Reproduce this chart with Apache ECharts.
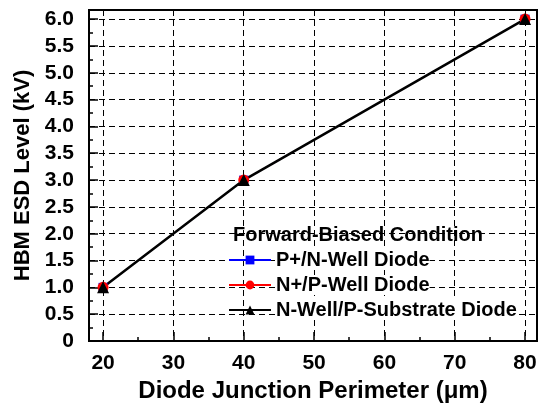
<!DOCTYPE html>
<html>
<head>
<meta charset="utf-8">
<script src="https://cdn.jsdelivr.net/npm/echarts@6/dist/echarts.min.js"></script>
<style>
  html, body { margin: 0; padding: 0; background: #fff; }
  #main { width: 539px; height: 410px; }
</style>
</head>
<body>
<div id="main"></div>
<script>
// junction perimeter (um) and HBM level (kV)
var perimeter = [20, 40, 80];
var pWellDiode = [1.0, 3.0, 6.0];   // P+/N-Well
var nWellDiode = [1.0, 3.0, 6.0];   // N+/P-Well
var subDiode = [1.0, 3.0, 6.0];     // N-Well/P-Substrate
var seriesNames = ['P+/N-Well Diode', 'N+/P-Well Diode', 'N-Well/P-Substrate Diode'];

function pairs(ys) {
  return perimeter.map(function (x, i) { return [x, ys[i]]; });
}

var font = 'Liberation Sans, Arial, sans-serif';
var myChart = echarts.init(document.getElementById('main'));

var option = {
  animation: false,
  grid: {
    left: 89, right: 2, top: 10, bottom: 69,
    outerBoundsMode: 'none',
    show: true, borderColor: '#000', borderWidth: 2
  },
  title: {
    text: 'Forward-Biased Condition',
    left: 231, top: 223,
    padding: [2, 2],
    textStyle: { fontFamily: font, fontSize: 20, fontWeight: 'bold', color: '#000', backgroundColor: '#fff' }
  },
  legend: {
    orient: 'vertical',
    left: 228, top: 250,
    padding: 0,
    itemWidth: 42, itemHeight: 11, itemGap: 5,
    data: seriesNames,
    textStyle: { fontFamily: font, fontSize: 20, fontWeight: 'bold', color: '#000', backgroundColor: '#fff' }
  },
  xAxis: {
    type: 'value',
    min: 18, max: 81.7,
    minInterval: 10, maxInterval: 10,
    name: 'Diode Junction Perimeter (\u03bcm)',
    nameLocation: 'middle', nameGap: 38,
    nameTextStyle: { fontFamily: font, fontSize: 24, fontWeight: 'bold', color: '#000' },
    axisLine: { lineStyle: { color: '#000', width: 2 } },
    axisTick: { inside: true, length: 9, lineStyle: { color: '#000', width: 1.5 } },
    minorTick: { show: true, splitNumber: 2, length: 4, lineStyle: { color: '#000', width: 1.5 } },
    axisLabel: {
      showMinLabel: false, showMaxLabel: false, margin: 12,
      fontFamily: font, fontSize: 21, fontWeight: 'bold', color: '#000'
    },
    splitLine: { show: true, lineStyle: { color: '#000', type: [6, 4], width: 1 } }
  },
  yAxis: {
    type: 'value',
    min: 0, max: 6.17,
    minInterval: 0.5, maxInterval: 0.5,
    name: 'HBM ESD Level (kV)',
    nameLocation: 'middle', nameGap: 54, nameRotate: 90,
    nameTextStyle: { fontFamily: font, fontSize: 22, fontWeight: 'bold', color: '#000' },
    axisLine: { lineStyle: { color: '#000', width: 2 } },
    axisTick: { inside: true, length: 9, lineStyle: { color: '#000', width: 1.5 } },
    minorTick: { show: true, splitNumber: 2, length: 4, lineStyle: { color: '#000', width: 1.5 } },
    axisLabel: {
      showMaxLabel: false, margin: 15,
      fontFamily: font, fontSize: 21, fontWeight: 'bold', color: '#000',
      formatter: function (v) { return v === 0 ? '0' : v.toFixed(1); }
    },
    splitLine: { show: true, lineStyle: { color: '#000', type: [6, 4], width: 1 } }
  },
  series: [
    {
      name: seriesNames[0], type: 'line', data: pairs(pWellDiode),
      symbol: 'rect', symbolSize: 9,
      itemStyle: { color: '#0000ff' }, lineStyle: { color: '#0000ff', width: 1 }
    },
    {
      name: seriesNames[1], type: 'line', data: pairs(nWellDiode),
      symbol: 'circle', symbolSize: 11,
      itemStyle: { color: '#ff0000' }, lineStyle: { color: '#ff0000', width: 1 }
    },
    {
      name: seriesNames[2], type: 'line', data: pairs(subDiode),
      symbol: 'triangle', symbolSize: 12,
      itemStyle: { color: '#000' }, lineStyle: { color: '#000', width: 2.5 }
    }
  ]
};

myChart.setOption(option);
</script>
</body>
</html>
